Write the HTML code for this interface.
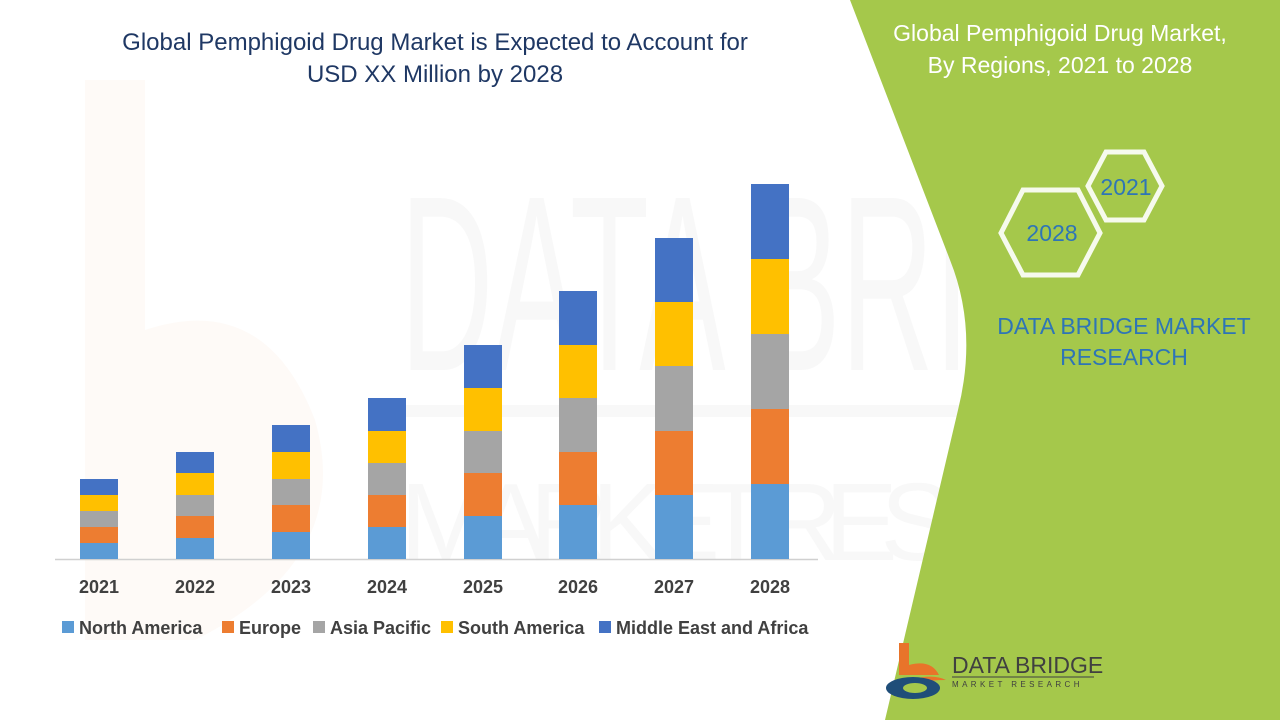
<!DOCTYPE html>
<html><head><meta charset="utf-8"><style>
html,body{margin:0;padding:0;width:1280px;height:720px;overflow:hidden;background:#fff}
svg{display:block}
text{font-family:"Liberation Sans Narrow","Liberation Sans",sans-serif}
</style></head><body>
<svg width="1280" height="720" viewBox="0 0 1280 720">
<rect width="1280" height="720" fill="#fff"/>
<!-- faint watermark -->
<g opacity="0.035">
<path d="M85 80 h60 v250 q120 -40 170 90 q40 140 -120 220 h-110 z" fill="#e8742a"/>
<text x="400" y="370" font-size="250" fill="#555" textLength="850" lengthAdjust="spacingAndGlyphs">DATA BRIDGE</text>
<text x="400" y="560" font-size="110" fill="#555" textLength="850" lengthAdjust="spacing">MARKET RESEARCH</text>
<rect x="400" y="405" width="880" height="12" fill="#555"/>
</g>
<!-- green panel -->
<path d="M850 0 L1280 0 L1280 720 L885 720 L958 410 Q978 330 950 260 Z" fill="#a5c84b"/>
<!-- title -->
<text x="435" y="50" font-size="24" fill="#1f3864" text-anchor="middle">Global Pemphigoid Drug Market is Expected to Account for</text>
<text x="435" y="82" font-size="24" fill="#1f3864" text-anchor="middle">USD XX Million by 2028</text>
<!-- axis -->
<line x1="55" y1="559.5" x2="818" y2="559.5" stroke="#d0d0d0" stroke-width="1.5"/>
<!-- bars -->
<g>
<rect x="80" y="543" width="38" height="16" fill="#5b9bd5"/><rect x="80" y="527" width="38" height="16" fill="#ed7d31"/><rect x="80" y="511" width="38" height="16" fill="#a5a5a5"/><rect x="80" y="495" width="38" height="16" fill="#ffc000"/><rect x="80" y="479" width="38" height="16" fill="#4472c4"/>
<rect x="176" y="538" width="38" height="21" fill="#5b9bd5"/><rect x="176" y="516" width="38" height="22" fill="#ed7d31"/><rect x="176" y="495" width="38" height="21" fill="#a5a5a5"/><rect x="176" y="473" width="38" height="22" fill="#ffc000"/><rect x="176" y="452" width="38" height="21" fill="#4472c4"/>
<rect x="272" y="532" width="38" height="27" fill="#5b9bd5"/><rect x="272" y="505" width="38" height="27" fill="#ed7d31"/><rect x="272" y="479" width="38" height="26" fill="#a5a5a5"/><rect x="272" y="452" width="38" height="27" fill="#ffc000"/><rect x="272" y="425" width="38" height="27" fill="#4472c4"/>
<rect x="368" y="527" width="38" height="32" fill="#5b9bd5"/><rect x="368" y="495" width="38" height="32" fill="#ed7d31"/><rect x="368" y="463" width="38" height="32" fill="#a5a5a5"/><rect x="368" y="431" width="38" height="32" fill="#ffc000"/><rect x="368" y="398" width="38" height="33" fill="#4472c4"/>
<rect x="464" y="516" width="38" height="43" fill="#5b9bd5"/><rect x="464" y="473" width="38" height="43" fill="#ed7d31"/><rect x="464" y="431" width="38" height="42" fill="#a5a5a5"/><rect x="464" y="388" width="38" height="43" fill="#ffc000"/><rect x="464" y="345" width="38" height="43" fill="#4472c4"/>
<rect x="559" y="505" width="38" height="54" fill="#5b9bd5"/><rect x="559" y="452" width="38" height="53" fill="#ed7d31"/><rect x="559" y="398" width="38" height="54" fill="#a5a5a5"/><rect x="559" y="345" width="38" height="53" fill="#ffc000"/><rect x="559" y="291" width="38" height="54" fill="#4472c4"/>
<rect x="655" y="495" width="38" height="64" fill="#5b9bd5"/><rect x="655" y="431" width="38" height="64" fill="#ed7d31"/><rect x="655" y="366" width="38" height="65" fill="#a5a5a5"/><rect x="655" y="302" width="38" height="64" fill="#ffc000"/><rect x="655" y="238" width="38" height="64" fill="#4472c4"/>
<rect x="751" y="484" width="38" height="75" fill="#5b9bd5"/><rect x="751" y="409" width="38" height="75" fill="#ed7d31"/><rect x="751" y="334" width="38" height="75" fill="#a5a5a5"/><rect x="751" y="259" width="38" height="75" fill="#ffc000"/><rect x="751" y="184" width="38" height="75" fill="#4472c4"/>
</g>
<!-- x labels -->
<g font-size="18" font-weight="bold" fill="#404040" text-anchor="middle">
<text x="99" y="593">2021</text><text x="195" y="593">2022</text><text x="291" y="593">2023</text><text x="387" y="593">2024</text><text x="483" y="593">2025</text><text x="578" y="593">2026</text><text x="674" y="593">2027</text><text x="770" y="593">2028</text>
</g>
<!-- legend -->
<g font-size="18" font-weight="bold" fill="#404040">
<rect x="62" y="621" width="12" height="12" fill="#5b9bd5"/><text x="79" y="634">North America</text>
<rect x="222" y="621" width="12" height="12" fill="#ed7d31"/><text x="239" y="634">Europe</text>
<rect x="313" y="621" width="12" height="12" fill="#a5a5a5"/><text x="330" y="634">Asia Pacific</text>
<rect x="441" y="621" width="12" height="12" fill="#ffc000"/><text x="458" y="634">South America</text>
<rect x="599" y="621" width="12" height="12" fill="#4472c4"/><text x="616" y="634">Middle East and Africa</text>
</g>
<!-- right panel text -->
<text x="1060" y="41" font-size="23" fill="#fff" text-anchor="middle">Global Pemphigoid Drug Market,</text>
<text x="1060" y="73" font-size="23" fill="#fff" text-anchor="middle">By Regions, 2021 to 2028</text>
<polygon points="1088,186 1106,152 1144,152 1162,186 1144,220 1106,220" fill="none" stroke="#fff" stroke-width="5" opacity="0.9"/>
<polygon points="1001,233 1023,190 1078,190 1100,233 1078,275 1023,275" fill="none" stroke="#fff" stroke-width="5" opacity="0.9"/>
<text x="1126" y="195" font-size="23" fill="#2e75b6" text-anchor="middle">2021</text>
<text x="1052" y="241" font-size="23" fill="#2e75b6" text-anchor="middle">2028</text>
<text x="1124" y="334" font-size="23" fill="#2e75b6" text-anchor="middle">DATA BRIDGE MARKET</text>
<text x="1124" y="365" font-size="23" fill="#2e75b6" text-anchor="middle">RESEARCH</text>
<!-- logo -->
<path d="M899 643 h10 v22 q22 -6 30 10 h-40 z" fill="#e8742a"/>
<path d="M886 690 q40 -20 60 -10 q-30 0 -60 10z" fill="#e8742a"/>
<ellipse cx="913" cy="688" rx="27" ry="11" fill="#1f4e79"/>
<ellipse cx="915" cy="688" rx="12" ry="5" fill="#a5c84b"/>
<text x="952" y="673" font-size="23" fill="#404040">DATA BRIDGE</text>
<line x1="952" y1="677" x2="1094" y2="677" stroke="#404040" stroke-width="1"/>
<text x="952" y="687" font-size="8" fill="#404040" letter-spacing="3.4">MARKET  RESEARCH</text>
</svg>
</body></html>
